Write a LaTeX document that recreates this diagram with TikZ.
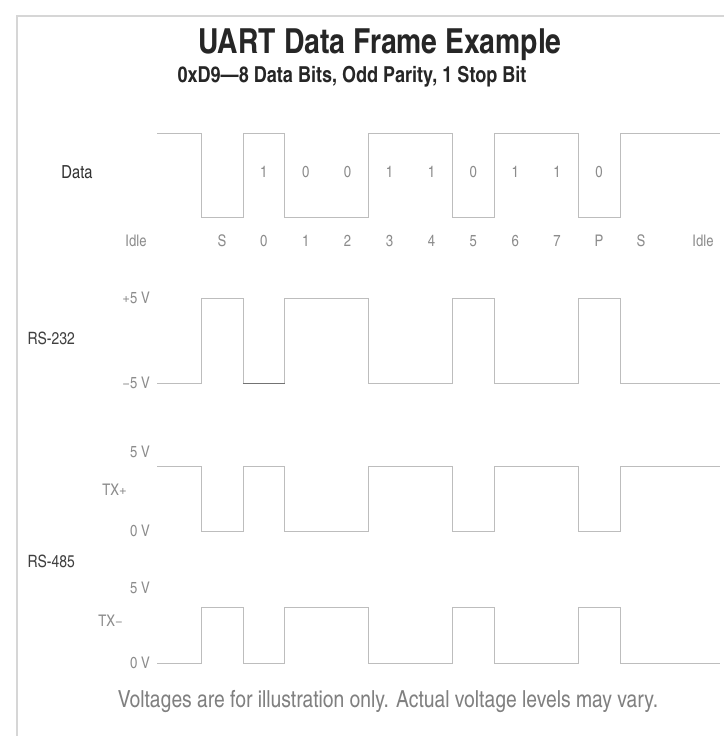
\documentclass[tikz,border=0pt]{standalone}
\usepackage{fontspec}
\setmainfont{TeX Gyre Heros Cn}
\begin{document}
\begin{tikzpicture}[x=1pt,y=-1pt,
  wave/.style={draw=black!26,line width=0.8pt},
  frameline/.style={draw=black!16,line width=2.2pt},
  ttl/.style={font=\bfseries\fontsize{34.5}{38}\selectfont,text=black!85},
  subttl/.style={font=\bfseries\fontsize{22}{25}\selectfont,text=black!85},
  grp/.style={font=\fontsize{17}{20}\selectfont,text=black!75},
  bitlbl/.style={font=\fontsize{16}{18}\selectfont,text=black!45},
  vlbl/.style={font=\fontsize{16}{18}\selectfont,text=black!45,anchor=east,inner sep=1pt},
  note/.style={font=\fontsize{23.5}{27}\selectfont,text=black!50}]
\useasboundingbox (0,0) rectangle (724,736);
\fill[white] (0,0) rectangle (724,736);
\draw[frameline] (17,736) -- (17,16) -- (724,16);
% titles
\node[ttl] (title) at (380,45) {UART Data Frame Example};
\node[subttl] (sub) at (352,77) {0xD9—8 Data Bits, Odd Parity, 1 Stop Bit};
% Data row
\node[grp,font=\fontsize{18}{20}\selectfont,text=black!80] (data) at (77,172) {Data};
\draw[wave] (157,133) -- (201,133) -- (201,217) -- (242.9,217) -- (242.9,133) -- (284.8,133) -- (284.8,217) -- (368.6,217) -- (368.6,133) -- (452.4,133) -- (452.4,217) -- (494.3,217) -- (494.3,133) -- (578.1,133) -- (578.1,217) -- (620,217) -- (620,133) -- (720,133);
\foreach \xx/\v [count=\i] in {263.8/1,305.7/0,347.6/0,389.5/1,431.4/1,473.3/0,515.2/1,557.1/1,599/0}
  \node[bitlbl] (d\i) at (\xx,172) {\v};
% bit index row
\node[bitlbl] (idl) at (136,241) {Idle};
\foreach \xx/\v [count=\i] in {222/S,263.8/0,305.7/1,347.6/2,389.5/3,431.4/4,473.3/5,515.2/6,557.1/7,599/P,641/S}
  \node[bitlbl] (n\i) at (\xx,241) {\v};
\node[bitlbl] (idr) at (703,241) {Idle};
% RS-232
\node[grp,anchor=west] (rs232) at (24,338) {RS-232};
\node[vlbl] (v1) at (151,298) {+5 V};
\node[vlbl] (v2) at (151,383) {−5 V};
\draw[wave] (157,383) -- (201,383) -- (201,298) -- (242.9,298) -- (242.9,383) -- (284.8,383) -- (284.8,298) -- (368.6,298) -- (368.6,383) -- (452.4,383) -- (452.4,298) -- (494.3,298) -- (494.3,383) -- (578.1,383) -- (578.1,298) -- (620,298) -- (620,383) -- (720,383);
\draw[draw=black!55,line width=1pt] (242.9,383) -- (284.8,383);
% RS-485 TX+
\node[vlbl] (v3) at (151,452) {5 V};
\node[vlbl] (tp) at (128,490) {TX+};
\node[vlbl] (v4) at (151,531) {0 V};
\draw[wave] (157,466) -- (201,466) -- (201,531) -- (242.9,531) -- (242.9,466) -- (284.8,466) -- (284.8,531) -- (368.6,531) -- (368.6,466) -- (452.4,466) -- (452.4,531) -- (494.3,531) -- (494.3,466) -- (578.1,466) -- (578.1,531) -- (620,531) -- (620,466) -- (720,466);
\node[grp,anchor=west] (rs485) at (24,561) {RS-485};
% RS-485 TX-
\node[vlbl] (v5) at (151,588) {5 V};
\node[vlbl] (tm) at (124,621) {TX−};
\node[vlbl] (v6) at (151,663) {0 V};
\draw[wave] (157,663) -- (201,663) -- (201,607) -- (242.9,607) -- (242.9,663) -- (284.8,663) -- (284.8,607) -- (368.6,607) -- (368.6,663) -- (452.4,663) -- (452.4,607) -- (494.3,607) -- (494.3,663) -- (578.1,663) -- (578.1,607) -- (620,607) -- (620,663) -- (720,663);
% footnote
\node[note] (fn) at (388,702) {Voltages are for illustration only. Actual voltage levels may vary.};
\end{tikzpicture}
\end{document}
